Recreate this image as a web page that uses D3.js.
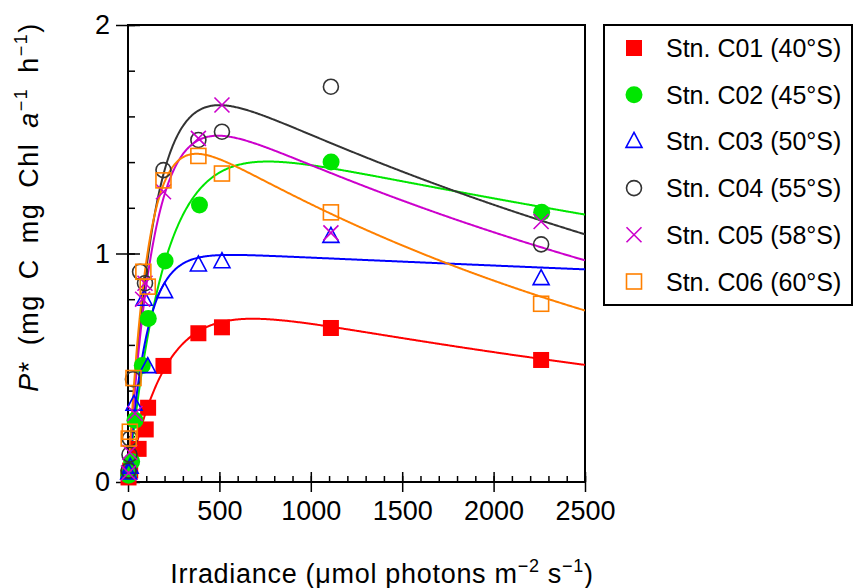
<!DOCTYPE html>
<html>
<head>
<meta charset="utf-8">
<script src="https://cdn.jsdelivr.net/npm/d3@7"></script>
<style>
  body { margin: 0; background: #fff; }
  text { font-family: "Liberation Sans", Arial, sans-serif; fill: #000; }
</style>
</head>
<body>
<svg id="chart" width="853" height="588"></svg>
<script>
// station names, colours and marker shapes
const stations = ['Stn. C01 (40°S)', 'Stn. C02 (45°S)', 'Stn. C03 (50°S)', 'Stn. C04 (55°S)', 'Stn. C05 (58°S)', 'Stn. C06 (60°S)'];
const colors = ['#ff0000', '#00e600', '#0000ff', '#333333', '#cc00cc', '#ff8000'];
const shapes = ['squareFill', 'circleFill', 'triangle', 'circle', 'cross', 'square'];

// measured points [irradiance, P*]
const c01 = [[3, 0.02], [12, 0.05], [58, 0.145], [97, 0.23], [110, 0.325], [194, 0.508], [385, 0.651], [514, 0.677], [1110, 0.674], [2260, 0.534]];
const c02 = [[3, 0.03], [20, 0.09], [38, 0.27], [78, 0.51], [111, 0.716], [203, 0.967], [391, 1.212], [1111, 1.40], [2263, 1.18]];
const c03 = [[4, 0.04], [12, 0.065], [33, 0.34], [88, 0.80], [108, 0.505], [200, 0.833], [385, 0.95], [514, 0.964], [1110, 1.075], [2260, 0.89]];
const c04 = [[3, 0.05], [8, 0.12], [10, 0.19], [27, 0.45], [66, 0.92], [93, 0.87], [194, 1.365], [385, 1.497], [514, 1.533], [1110, 1.73], [2260, 1.04]];
const c05 = [[3, 0.04], [10, 0.13], [38, 0.30], [80, 0.80], [93, 0.87], [194, 1.27], [385, 1.504], [514, 1.65], [1110, 1.09], [2260, 1.14]];
const c06 = [[4, 0.19], [10, 0.22], [30, 0.455], [84, 0.92], [108, 0.855], [194, 1.32], [385, 1.427], [514, 1.35], [1110, 1.18], [2260, 0.78]];
const points = [c01, c02, c03, c04, c05, c06];

// fitted P-E parameters (Platt et al. 1980): Ps, alpha, beta
const ps = [0.86, 1.572, 1.018, 1.907, 1.764, 1.678];
const alpha = [0.00396, 0.0077, 0.01008, 0.01316, 0.01217, 0.0151];
const beta = [0.000178, 0.0001855, 0.0000366, 0.000431, 0.000422, 0.00054];

const xMajor = [0, 500, 1000, 1500, 2000, 2500];
const yMajor = [0, 1, 2];

const svg = d3.select('#chart');
const mLeft = 128, mRight = 585, mTop = 25, mBottom = 482;

const x = d3.scaleLinear().domain([0, 2500]).range([mLeft, mRight]);
const y = d3.scaleLinear().domain([0, 2]).range([mBottom, mTop]);

// minor ticks (inside)
svg.append('g')
  .attr('transform', `translate(0,${mBottom})`)
  .call(d3.axisBottom(x).tickValues(d3.range(0, 2501, 100)).tickSize(-6).tickFormat(''))
  .call(g => g.select('.domain').remove())
  .selectAll('line').attr('stroke-width', 1.5);

svg.append('g')
  .attr('transform', `translate(${mLeft},0)`)
  .call(d3.axisLeft(y).tickValues(d3.range(0, 2.01, 0.2)).tickSize(-7).tickFormat(''))
  .call(g => g.select('.domain').remove())
  .selectAll('line').attr('stroke-width', 1.5);

// major ticks, crossing the axis
const xAxis = svg.append('g')
  .attr('transform', `translate(0,${mBottom})`)
  .call(d3.axisBottom(x).tickValues(xMajor).tickSize(10).tickPadding(9).tickFormat(d3.format('d')));
xAxis.select('.domain').remove();
xAxis.selectAll('line').attr('y1', -10).attr('stroke-width', 1.5);
xAxis.selectAll('text').attr('font-size', 27).attr('font-family', '"Liberation Sans", Arial, sans-serif');

const yAxis = svg.append('g')
  .attr('transform', `translate(${mLeft},0)`)
  .call(d3.axisLeft(y).tickValues(yMajor).tickSize(12).tickPadding(6).tickFormat(d3.format('d')));
yAxis.select('.domain').remove();
yAxis.selectAll('line').attr('x1', 12).attr('stroke-width', 1.5);
yAxis.selectAll('text').attr('font-size', 27).attr('font-family', '"Liberation Sans", Arial, sans-serif');

// plot frame
svg.append('rect')
  .attr('x', mLeft).attr('y', mTop)
  .attr('width', mRight - mLeft).attr('height', mBottom - mTop)
  .attr('fill', 'none').attr('stroke', '#000').attr('stroke-width', 2);

svg.append('clipPath').attr('id', 'clip')
  .append('rect').attr('x', mLeft).attr('y', mTop).attr('width', mRight - mLeft).attr('height', mBottom - mTop);

// fitted curves
const platt = i => I => ps[i] * (1 - Math.exp(-alpha[i] * I / ps[i])) * Math.exp(-beta[i] * I / ps[i]);
const irr = d3.range(0, 2501, 5);
const line = d3.line().x(d => x(d[0])).y(d => y(d[1]));

const curves = svg.append('g').attr('clip-path', 'url(#clip)');
stations.forEach((s, i) => {
  const f = platt(i);
  curves.append('path')
    .datum(irr.map(I => [I, f(I)]))
    .attr('d', line)
    .attr('fill', 'none')
    .attr('stroke', colors[i])
    .attr('stroke-width', 2);
});

// marker drawing
function marker(g, shape, color, cx, cy) {
  if (shape === 'squareFill') {
    g.append('rect').attr('x', cx - 8).attr('y', cy - 8).attr('width', 16).attr('height', 16).attr('fill', color);
  } else if (shape === 'circleFill') {
    g.append('circle').attr('cx', cx).attr('cy', cy).attr('r', 8.5).attr('fill', color);
  } else if (shape === 'triangle') {
    g.append('path').attr('d', `M${cx},${cy - 9}L${cx + 8},${cy + 6}L${cx - 8},${cy + 6}Z`)
      .attr('fill', 'none').attr('stroke', color).attr('stroke-width', 1.6);
  } else if (shape === 'circle') {
    g.append('circle').attr('cx', cx).attr('cy', cy).attr('r', 7.5)
      .attr('fill', 'none').attr('stroke', color).attr('stroke-width', 1.6);
  } else if (shape === 'cross') {
    g.append('path').attr('d', `M${cx - 7.5},${cy - 7.5}L${cx + 7.5},${cy + 7.5}M${cx + 7.5},${cy - 7.5}L${cx - 7.5},${cy + 7.5}`)
      .attr('fill', 'none').attr('stroke', color).attr('stroke-width', 1.6);
  } else {
    g.append('rect').attr('x', cx - 7.5).attr('y', cy - 7.5).attr('width', 15).attr('height', 15)
      .attr('fill', 'none').attr('stroke', color).attr('stroke-width', 1.6);
  }
}

const marks = svg.append('g');
points.forEach((pts, i) => {
  pts.forEach(d => marker(marks, shapes[i], colors[i], x(d[0]), y(d[1])));
});

// legend
const legend = svg.append('g');
legend.append('rect')
  .attr('x', 604).attr('y', 25).attr('width', 248).attr('height', 280)
  .attr('fill', '#fff').attr('stroke', '#000').attr('stroke-width', 2);
stations.forEach((s, i) => {
  const ly = 48 + i * 46.7;
  marker(legend, shapes[i], colors[i], 634, ly);
  legend.append('text')
    .attr('x', 666).attr('y', ly)
    .attr('dy', '0.36em')
    .attr('font-size', 25)
    .text(s);
});

// axis titles
const xt = svg.append('text')
  .attr('x', 382).attr('y', 583)
  .attr('text-anchor', 'middle')
  .attr('font-size', 27)
  .attr('letter-spacing', 0.7);
xt.append('tspan').text('Irradiance (μmol photons m');
xt.append('tspan').attr('dy', -11).attr('font-size', 18).text('−2');
xt.append('tspan').attr('dy', 11).text(' s');
xt.append('tspan').attr('dy', -11).attr('font-size', 18).text('−1');
xt.append('tspan').attr('dy', 11).text(')');

const yt = svg.append('text')
  .attr('transform', 'translate(38,207) rotate(-90)')
  .attr('text-anchor', 'middle')
  .attr('font-size', 27)
  .attr('letter-spacing', 1.5)
  .attr('word-spacing', 6);
yt.append('tspan').attr('font-style', 'italic').text('P');
yt.append('tspan').text('* (mg C mg Chl ');
yt.append('tspan').attr('font-style', 'italic').text('a');
yt.append('tspan').attr('dy', -11).attr('font-size', 18).text('−1');
yt.append('tspan').attr('dy', 11).text(' h');
yt.append('tspan').attr('dy', -11).attr('font-size', 18).text('−1');
yt.append('tspan').attr('dy', 11).text(')');
</script>
</body>
</html>
